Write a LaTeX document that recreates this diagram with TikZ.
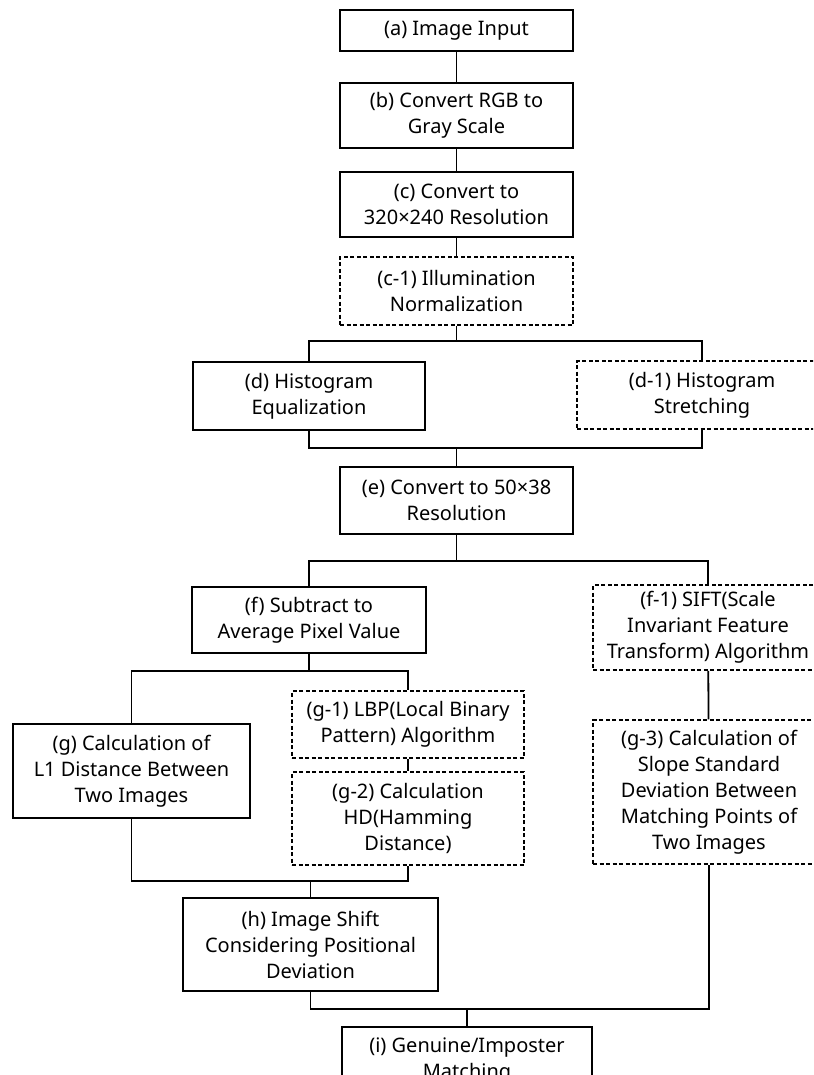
\documentclass[tikz,border=0pt]{standalone}
\usepackage{fontspec}
\setmainfont{Noto Sans}
\begin{document}
\begin{tikzpicture}[x=1pt,y=1pt,
  box/.style={draw=black, line width=1.8pt, inner sep=0pt, align=center,
    font=\fontsize{20}{26}\selectfont, text=black},
  dbox/.style={box, line width=1.5pt, dash pattern=on 4pt off 2.5pt},
  conn/.style={draw=black, line width=1.8pt}]
\useasboundingbox (0,0) rectangle (813,-1075);
\clip (0,0) rectangle (813,-1075);
\fill[white] (0,0) rectangle (813,-1075);
% nodes
\node[box, minimum width=233pt, minimum height=41pt] (a) at (456.5,-30.5) {(a) Image Input};
\node[box, minimum width=233pt, minimum height=65pt] (b) at (456.5,-115.5) {(b) Convert RGB to\\Gray Scale};
\node[box, minimum width=233pt, minimum height=65pt] (c) at (456.5,-204.5) {(c) Convert to\\320×240 Resolution};
\node[dbox, minimum width=233pt, minimum height=68pt] (c1) at (456.5,-291) {(c-1) Illumination\\Normalization};
\node[box, minimum width=232pt, minimum height=68pt] (d) at (309,-396) {(d) Histogram\\Equalization};
\node[dbox, minimum width=250pt, minimum height=68pt] (d1) at (702,-395) {(d-1) Histogram\\Stretching};
\node[box, minimum width=233pt, minimum height=67pt] (e) at (456.5,-500.5) {(e) Convert to 50×38\\Resolution};
\node[box, minimum width=234pt, minimum height=66pt] (f) at (309,-620) {(f) Subtract to\\Average Pixel Value};
\node[dbox, minimum width=230pt, minimum height=85pt] (f1) at (708,-627.5) {(f-1) SIFT(Scale\\Invariant Feature\\Transform) Algorithm};
\node[box, minimum width=237pt, minimum height=94pt] (g) at (131.5,-771) {(g) Calculation of\\L1 Distance Between\\Two Images};
\node[dbox, minimum width=232pt, minimum height=67pt] (g1) at (408,-724.5) {(g-1) LBP(Local Binary\\Pattern) Algorithm};
\node[dbox, minimum width=232pt, minimum height=93pt] (g2) at (408,-818.5) {(g-2) Calculation\\HD(Hamming\\Distance)};
\node[dbox, minimum width=232pt, minimum height=144pt] (g3) at (709,-792) {(g-3) Calculation of\\Slope Standard\\Deviation Between\\Matching Points of\\Two Images};
\node[box, minimum width=255pt, minimum height=93pt] (h) at (310.5,-944.5) {(h) Image Shift\\Considering Positional\\Deviation};
\node[box, minimum width=250pt, minimum height=68pt] (i) at (467,-1061) {(i) Genuine/Imposter\\Matching};
% junction points
\coordinate (s1) at (456.5,-341);
\coordinate (m1) at (456.5,-448);
\coordinate (s2) at (456.5,-561);
\coordinate (s3) at (309,-671);
\coordinate (m2) at (310.5,-881);
\coordinate (m3) at (467,-1009);
% connectors
\draw[conn] (a) -- (b);
\draw[conn] (b) -- (c);
\draw[conn] (c) -- (c1);
\draw[conn] (c1.south) -- (s1);
\draw[conn] (d.north) |- (s1) -| (d1.north);
\draw[conn] (d.south) |- (m1) -| (d1.south);
\draw[conn] (m1) -- (e.north);
\draw[conn] (e.south) -- (s2);
\draw[conn] (f.north) |- (s2) -| (f1.north);
\draw[conn] (f.south) -- (s3);
\draw[conn] (g.north) |- (s3) -| (g1.north);
\draw[conn] (g1) -- (g2);
\draw[conn] (f1) -- (g3);
\draw[conn] (g.south) |- (m2) -| (g2.south);
\draw[conn] (m2) -- (h.north);
\draw[conn] (h.south) |- (m3) -| (g3.south);
\draw[conn] (m3) -- (i.north);
\end{tikzpicture}
\end{document}
